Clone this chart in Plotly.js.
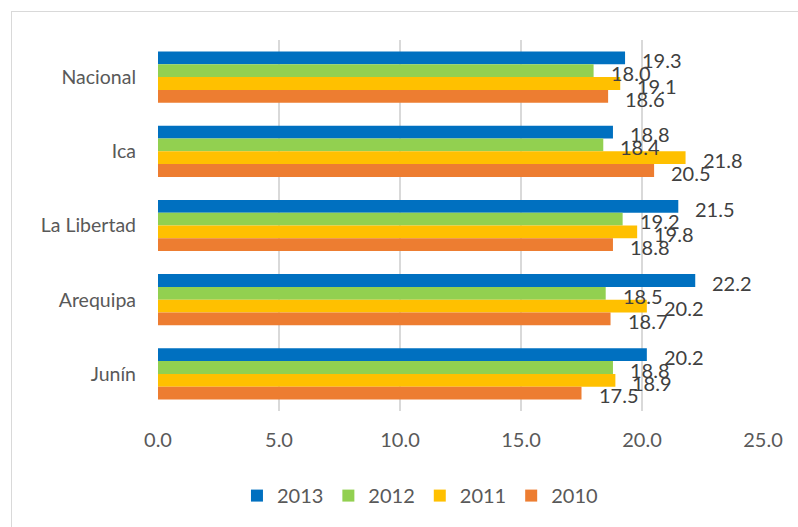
<!DOCTYPE html>
<html>
<head>
<meta charset="utf-8">
<script src="https://cdn.plot.ly/plotly-3.0.1.min.js"></script>
<style>
html,body{margin:0;padding:0;background:#fff;}
#frame{position:absolute;left:11px;top:11px;width:900px;height:700px;border:1px solid #d9d9d9;pointer-events:none;}
#chart{width:798px;height:527px;}
</style>
</head>
<body>
<div id="chart"></div>
<div id="frame"></div>
<script>
const categories = ["Nacional", "Ica", "La Libertad", "Arequipa", "Junín"];
const years = ["2013", "2012", "2011", "2010"];
const colors = ["#0070C0", "#92D050", "#FFC000", "#ED7D31"];
const v2013 = [19.3, 18.8, 21.5, 22.2, 20.2];
const v2012 = [18.0, 18.4, 19.2, 18.5, 18.8];
const v2011 = [19.1, 21.8, 19.8, 20.2, 18.9];
const v2010 = [18.6, 20.5, 18.8, 18.7, 17.5];
const series = [v2013, v2012, v2011, v2010];
const xTicks = [0, 5, 10, 15, 20, 25];

const FONT = "Lato, 'Open Sans', sans-serif";
const bargap = 0.31;
const nS = series.length;
const bw = (1 - bargap) / nS;

const traces = series.map((vals, i) => ({
  type: "bar",
  orientation: "h",
  name: years[i],
  y: categories,
  x: vals,
  marker: {color: colors[i]},
  hoverinfo: "x+name"
}));

const annotations = [];
series.forEach((vals, i) => {
  const off = -(1 - bargap) / 2 + (i + 0.5) * bw;
  vals.forEach((v, j) => {
    annotations.push({
      x: v, y: j + off + 0.03, xref: "x", yref: "y",
      text: v.toFixed(1), showarrow: false,
      xanchor: "left", yanchor: "middle", xshift: 15,
      font: {family: FONT, size: 20, color: "#404040"}
    });
  });
});

const layout = {
  width: 798, height: 527,
  margin: {l: 158, r: 35, t: 40, b: 116},
  paper_bgcolor: "#fff", plot_bgcolor: "#fff",
  barmode: "group", bargap: bargap, bargroupgap: 0,
  showlegend: true,
  legend: {orientation: "h", x: 0.433, xanchor: "center", y: -0.228, yanchor: "middle",
    font: {family: FONT, size: 20, color: "#595959"}, traceorder: "normal",
    itemwidth: 30},
  xaxis: {range: [0, 25], tickvals: xTicks, ticktext: xTicks.map(t => t.toFixed(1)),
    showgrid: true, gridcolor: "#d9d9d9", gridwidth: 1.3, zeroline: false,
    showline: false, ticks: "", ticklabelstandoff: 15,
    tickfont: {family: FONT, size: 20, color: "#595959"}},
  yaxis: {type: "category", autorange: "reversed", showgrid: false, zeroline: false,
    showline: false, ticks: "", ticklabelstandoff: 21,
    tickfont: {family: FONT, size: 19.5, color: "#595959"}},
  annotations: annotations,
  font: {family: FONT}
};

Plotly.newPlot("chart", traces, layout, {displayModeBar: false, staticPlot: true});
</script>
</body>
</html>
